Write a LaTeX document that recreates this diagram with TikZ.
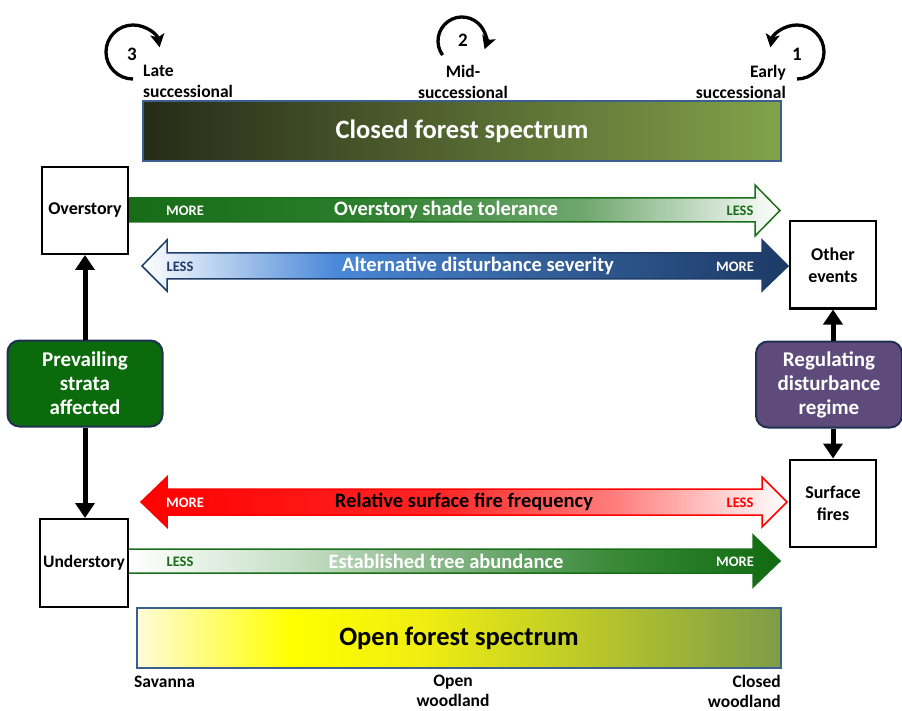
\documentclass[tikz,border=0pt]{standalone}
\usepackage{fontspec}
\setmainfont{Carlito}
\usetikzlibrary{arrows.meta}
\definecolor{clA}{HTML}{262B18}
\definecolor{clB}{HTML}{82A24A}
\definecolor{opA}{HTML}{FFFCD8}
\definecolor{opB}{HTML}{FFFF00}
\definecolor{opC}{HTML}{F0EE10}
\definecolor{opD}{HTML}{7D9C48}
\definecolor{ovA}{HTML}{176C17}
\definecolor{ovB}{HTML}{2A7D2A}
\definecolor{ovC}{HTML}{70A870}
\definecolor{alB}{HTML}{4A88D8}
\definecolor{alC}{HTML}{34619C}
\definecolor{alD}{HTML}{1D3A66}
\definecolor{frA}{HTML}{FF0000}
\definecolor{frB}{HTML}{FF2525}
\definecolor{frC}{HTML}{FF8080}
\definecolor{esB}{HTML}{C5DEC5}
\definecolor{esC}{HTML}{80B280}
\definecolor{esD}{HTML}{3A8A3A}
\definecolor{esE}{HTML}{0F6B0F}
\definecolor{dgreen}{HTML}{1A6E1A}
\definecolor{navy}{HTML}{1F3D6A}
\definecolor{barblue}{HTML}{3D5F8F}
\definecolor{boxnavy}{HTML}{1F3050}
\definecolor{prevgreen}{HTML}{0B6A0B}
\definecolor{regpurple}{HTML}{5E4B7B}
\pgfdeclarehorizontalshading{closedsh}{100bp}{color(0bp)=(clA); color(25bp)=(clA); color(75bp)=(clB); color(100bp)=(clB)}
\pgfdeclarehorizontalshading{opensh}{100bp}{color(0bp)=(opA); color(25bp)=(opA); color(37bp)=(opB); color(47bp)=(opC); color(75bp)=(opD); color(100bp)=(opD)}
\pgfdeclarehorizontalshading{oversh}{100bp}{color(0bp)=(ovA); color(25bp)=(ovA); color(42bp)=(ovB); color(60bp)=(ovC); color(75bp)=(white); color(100bp)=(white)}
\pgfdeclarehorizontalshading{altsh}{100bp}{color(0bp)=(white); color(25bp)=(white); color(40bp)=(alB); color(55bp)=(alC); color(75bp)=(alD); color(100bp)=(alD)}
\pgfdeclarehorizontalshading{firesh}{100bp}{color(0bp)=(frA); color(25bp)=(frA); color(48bp)=(frB); color(62bp)=(frC); color(75bp)=(white); color(100bp)=(white)}
\pgfdeclarehorizontalshading{estsh}{100bp}{color(0bp)=(white); color(25bp)=(white); color(38bp)=(esB); color(50bp)=(esC); color(62bp)=(esD); color(75bp)=(esE); color(100bp)=(esE)}
\begin{document}
\begin{tikzpicture}[x=1pt,y=-1pt,
  every node/.style={font=\bfseries, inner sep=0pt},
  lbl/.style={font=\fontsize{17.5}{21}\selectfont\bfseries},
  sqbox/.style={draw=black, line width=2pt, fill=white, minimum width=86pt, minimum height=87pt, align=center, font=\fontsize{18}{22}\selectfont\bfseries},
  roundbox/.style={draw=boxnavy, line width=2pt, rounded corners=12pt, minimum height=86pt, align=center, text=white, font=\fontsize{21}{24}\selectfont\bfseries},
  specbar/.style={shade, draw=barblue, line width=2pt, minimum height=60pt},
  bigtxt/.style={font=\fontsize{20.5}{22}\selectfont\bfseries},
  smalltxt/.style={font=\fontsize{14.5}{16}\selectfont\bfseries},
  stratarrow/.style={line width=5pt, -{Triangle[length=15pt,width=19pt]}},
  circarrow/.style={line width=3.3pt, -{Stealth[length=13pt,width=14pt,inset=3pt]}}
]
\useasboundingbox (0,0) rectangle (902,711);

% spectrum bars
\node[specbar, shading=closedsh, minimum width=638pt, text=white, font=\fontsize{26.5}{30}\selectfont\bfseries] (closed) at (462,131.5) {Closed forest spectrum};
\node[specbar, shading=opensh, minimum width=644pt, text=black, font=\fontsize{26.5}{30}\selectfont\bfseries] (open) at (459,638) {Open forest spectrum};

% successional labels
\node[lbl, align=left, anchor=west] (late) at (143,81.5) {Late\\successional};
\node[lbl, align=center] (mid) at (463,81.5) {Mid-\\successional};
\node[lbl, align=right, anchor=east] (early) at (786,81.5) {Early\\successional};

% circular arrows
\coordinate (c3) at (133,52);
\coordinate (c2) at (462,41);
\coordinate (c1) at (797,52);
\draw[circarrow] (c3) ++(90:27) arc[start angle=90, end angle=350, radius=27];
\draw[circarrow] (c2) ++(144:24) arc[start angle=144, end angle=380, radius=24];
\draw[circarrow] (c1) ++(90:27) arc[start angle=90, end angle=-170, radius=27];
\node[font=\fontsize{19}{20}\selectfont\bfseries] (n3) at (132,54) {3};
\node[font=\fontsize{19}{20}\selectfont\bfseries] (n2) at (463,40) {2};
\node[font=\fontsize{19}{20}\selectfont\bfseries] (n1) at (797,54) {1};

% bottom labels
\node[lbl, anchor=west] (sav) at (134,682) {Savanna};
\node[lbl, align=center, font=\fontsize{17.5}{20}\selectfont\bfseries] (openw) at (453,691) {Open\\woodland};
\node[lbl, align=right, anchor=east, font=\fontsize{17.5}{20}\selectfont\bfseries] (closedw) at (781,691) {Closed\\woodland};

% gradient arrows
\draw[draw=dgreen, line width=1.5pt, shade, shading=oversh]
  (128,198) -- (755,198) -- (755,185) -- (780,210.5) -- (755,236) -- (755,222) -- (128,222) -- cycle;
\draw[draw=navy, line width=1.5pt, shade, shading=altsh]
  (142,266) -- (167,240) -- (167,253) -- (762,253) -- (762,240) -- (788,266) -- (762,291) -- (762,279) -- (167,279) -- (167,291) -- cycle;
\draw[draw=frA, line width=1.5pt, shade, shading=firesh]
  (141,502) -- (167,477) -- (167,489) -- (762,489) -- (762,477) -- (787,502) -- (762,527) -- (762,515) -- (167,515) -- (167,527) -- cycle;
\draw[draw=dgreen, line width=1.5pt, shade, shading=estsh]
  (128,549) -- (753,549) -- (753,535) -- (780,561) -- (753,587) -- (753,573) -- (128,573) -- cycle;

% arrow texts
\node[smalltxt, text=white] (ovmore) at (185,211) {MORE};
\node[bigtxt, text=white] (ovtxt) at (446,210) {Overstory shade tolerance};
\node[smalltxt, text=dgreen] (ovless) at (740,211) {LESS};
\node[smalltxt, text=navy] (alless) at (180,267) {LESS};
\node[bigtxt, text=white] (altxt) at (478,266) {Alternative disturbance severity};
\node[smalltxt, text=white] (almore) at (735,267) {MORE};
\node[smalltxt, text=white] (frmore) at (185,503) {MORE};
\node[bigtxt, text=black] (frtxt) at (464,502) {Relative surface fire frequency};
\node[smalltxt, text=frA] (frless) at (740,503) {LESS};
\node[smalltxt, text=dgreen] (esless) at (180,562) {LESS};
\node[bigtxt, text=white] (estxt) at (446,561) {Established tree abundance};
\node[smalltxt, text=white] (esmore) at (735,562) {MORE};

% boxes
\node[sqbox] (over) at (85,210.5) {Overstory};
\node[sqbox, minimum width=88pt, minimum height=88pt, font=\fontsize{17.5}{22}\selectfont\bfseries] (under) at (84,563) {Understory};
\node[sqbox] (other) at (833,265) {Other\\events};
\node[sqbox] (surf) at (833,503) {Surface\\fires};
\node[roundbox, fill=prevgreen, minimum width=155pt] (prev) at (85,383.5) {Prevailing\\strata\\affected};
\node[roundbox, fill=regpurple, minimum width=146pt] (reg) at (829,384.5) {Regulating\\disturbance\\regime};

% connectors
\draw[stratarrow] (prev.north) -- (over.south);
\draw[stratarrow] (prev.south) -- (prev.south |- under.north);
\draw[stratarrow] (reg.north -| other.south) -- (other.south);
\draw[stratarrow] (reg.south -| surf.north) -- (surf.north);
\end{tikzpicture}
\end{document}
